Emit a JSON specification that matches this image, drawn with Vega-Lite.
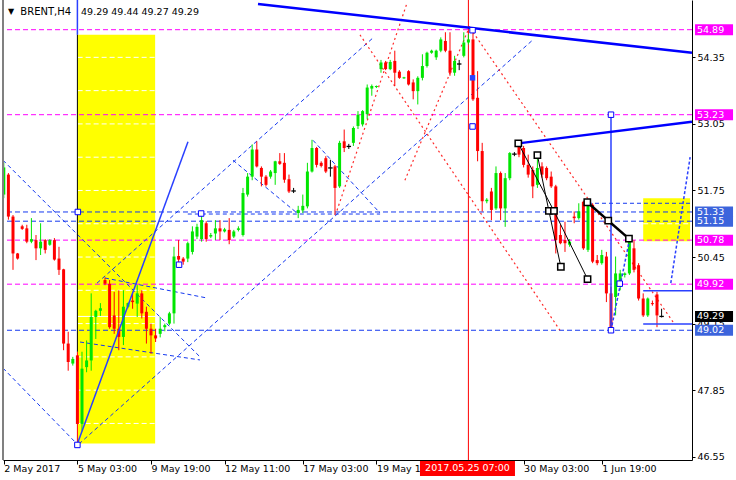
{
  "$schema": "https://vega.github.io/schema/vega-lite/v6.json",
  "width": 689,
  "height": 460,
  "autosize": "none",
  "padding": {"left": 3, "top": 0, "right": 44, "bottom": 20},
  "background": "#ffffff",
  "config": {"view": {"stroke": null}, "font": "DejaVu Sans"},
  "datasets": {
    "candles": [
      {"i":0,"o":51.67,"h":52.3,"l":51.6,"c":52.2},{"i":1,"o":52.06,"h":52.09,"l":51.18,"c":51.24},{"i":2,"o":51.24,"h":51.27,"l":50.2,"c":50.52},{"i":3,"o":50.52,"h":50.53,"l":50.4,"c":50.42},
      {"i":4,"o":51.05,"h":51.08,"l":50.98,"c":51.0},{"i":5,"o":51.01,"h":51.08,"l":50.72,"c":50.75},{"i":6,"o":50.75,"h":51.21,"l":50.72,"c":50.8},{"i":7,"o":50.78,"h":50.88,"l":50.39,"c":50.62},
      {"i":8,"o":50.62,"h":51.11,"l":50.49,"c":50.75},{"i":9,"o":50.78,"h":50.8,"l":50.52,"c":50.59},{"i":10,"o":50.69,"h":50.8,"l":50.67,"c":50.78},{"i":11,"o":50.78,"h":50.82,"l":50.38,"c":50.4},
      {"i":12,"o":50.42,"h":50.65,"l":50.1,"c":50.2},{"i":13,"o":50.21,"h":50.22,"l":48.63,"c":48.76},{"i":14,"o":48.76,"h":48.99,"l":48.23,"c":48.4},{"i":15,"o":48.37,"h":48.5,"l":48.33,"c":48.46},
      {"i":16,"o":48.53,"h":48.6,"l":46.76,"c":47.19},{"i":17,"o":47.19,"h":48.6,"l":47.06,"c":48.27},{"i":18,"o":48.3,"h":48.82,"l":48.2,"c":48.43},{"i":19,"o":48.43,"h":49.74,"l":48.23,"c":49.28},
      {"i":20,"o":49.28,"h":49.42,"l":48.85,"c":49.4},{"i":21,"o":49.4,"h":49.55,"l":49.3,"c":49.45},{"i":22,"o":50.0,"h":50.05,"l":49.9,"c":49.93},{"i":23,"o":49.93,"h":50.0,"l":49.05,"c":49.08},
      {"i":24,"o":49.31,"h":49.77,"l":48.95,"c":49.05},{"i":25,"o":49.05,"h":49.8,"l":48.63,"c":48.89},{"i":26,"o":48.89,"h":49.8,"l":48.73,"c":49.48},{"i":27,"o":49.48,"h":49.56,"l":49.45,"c":49.55},
      {"i":28,"o":49.6,"h":49.77,"l":49.44,"c":49.57},{"i":29,"o":49.54,"h":49.9,"l":49.28,"c":49.74},{"i":30,"o":49.74,"h":49.8,"l":49.25,"c":49.35},{"i":31,"o":49.38,"h":49.48,"l":48.76,"c":49.05},
      {"i":32,"o":49.05,"h":49.15,"l":48.56,"c":48.92},{"i":33,"o":48.92,"h":49.05,"l":48.79,"c":48.86},{"i":34,"o":48.95,"h":49.28,"l":48.88,"c":49.05},{"i":35,"o":49.08,"h":49.15,"l":49.0,"c":49.12},
      {"i":36,"o":49.15,"h":49.38,"l":49.12,"c":49.35},{"i":37,"o":49.35,"h":50.65,"l":49.15,"c":50.46},{"i":38,"o":50.47,"h":50.78,"l":50.26,"c":50.4},{"i":39,"o":50.42,"h":50.45,"l":50.3,"c":50.36},
      {"i":40,"o":50.42,"h":50.75,"l":50.35,"c":50.72},{"i":41,"o":50.55,"h":51.05,"l":50.5,"c":50.95},{"i":42,"o":50.85,"h":51.1,"l":50.8,"c":51.04},{"i":43,"o":50.8,"h":51.34,"l":50.75,"c":51.17},
      {"i":44,"o":51.11,"h":51.15,"l":50.75,"c":50.8},{"i":45,"o":50.85,"h":50.92,"l":50.82,"c":50.88},{"i":46,"o":50.91,"h":51.17,"l":50.78,"c":51.01},{"i":47,"o":51.01,"h":51.17,"l":50.78,"c":50.95},
      {"i":48,"o":50.95,"h":51.02,"l":50.93,"c":50.99},{"i":49,"o":50.98,"h":51.21,"l":50.7,"c":50.78},{"i":50,"o":50.85,"h":50.98,"l":50.82,"c":50.95},{"i":51,"o":50.98,"h":51.05,"l":50.95,"c":51.01},
      {"i":52,"o":50.88,"h":51.8,"l":50.85,"c":51.7},{"i":53,"o":51.67,"h":52.09,"l":51.63,"c":52.02},{"i":54,"o":52.02,"h":52.65,"l":51.95,"c":52.55},{"i":55,"o":52.55,"h":52.71,"l":52.2,"c":52.22},
      {"i":56,"o":52.19,"h":52.22,"l":51.83,"c":52.02},{"i":57,"o":52.02,"h":52.05,"l":51.83,"c":51.86},{"i":58,"o":52.02,"h":52.15,"l":51.98,"c":52.12},{"i":59,"o":52.09,"h":52.33,"l":51.86,"c":52.32},
      {"i":60,"o":52.32,"h":52.48,"l":52.25,"c":52.27},{"i":61,"o":52.29,"h":52.48,"l":51.9,"c":51.96},{"i":62,"o":51.97,"h":52.06,"l":51.7,"c":51.73},{"i":63,"o":51.74,"h":51.8,"l":51.7,"c":51.74},
      {"i":64,"o":51.31,"h":51.45,"l":51.21,"c":51.37},{"i":65,"o":51.36,"h":51.67,"l":51.31,"c":51.45},{"i":66,"o":51.44,"h":52.29,"l":51.4,"c":52.12},{"i":67,"o":52.12,"h":52.74,"l":52.1,"c":52.58},
      {"i":68,"o":52.58,"h":52.6,"l":52.2,"c":52.25},{"i":69,"o":52.29,"h":52.32,"l":52.2,"c":52.23},{"i":70,"o":52.38,"h":52.42,"l":52.09,"c":52.12},{"i":71,"o":52.19,"h":52.35,"l":52.02,"c":52.19},
      {"i":72,"o":52.22,"h":52.25,"l":51.27,"c":51.8},{"i":73,"o":51.83,"h":52.72,"l":51.8,"c":52.68},{"i":74,"o":52.71,"h":52.94,"l":52.5,"c":52.58},{"i":75,"o":52.61,"h":52.66,"l":52.56,"c":52.61},
      {"i":76,"o":52.68,"h":53.0,"l":52.62,"c":52.97},{"i":77,"o":53.01,"h":53.3,"l":52.95,"c":53.23},{"i":78,"o":53.04,"h":53.32,"l":53.0,"c":53.3},{"i":79,"o":53.24,"h":53.82,"l":53.14,"c":53.76},
      {"i":80,"o":53.74,"h":53.82,"l":53.6,"c":53.79},{"i":81,"o":53.77,"h":53.8,"l":53.75,"c":53.79},{"i":82,"o":54.12,"h":54.3,"l":54.05,"c":54.25},{"i":83,"o":54.25,"h":54.28,"l":54.1,"c":54.12},
      {"i":84,"o":54.12,"h":54.3,"l":54.1,"c":54.26},{"i":85,"o":54.28,"h":54.48,"l":53.79,"c":54.05},{"i":86,"o":54.07,"h":54.1,"l":53.93,"c":53.95},{"i":87,"o":53.94,"h":53.97,"l":53.93,"c":53.96},
      {"i":88,"o":54.08,"h":54.1,"l":53.8,"c":53.82},{"i":89,"o":53.86,"h":53.92,"l":53.53,"c":53.69},{"i":90,"o":53.69,"h":53.98,"l":53.43,"c":53.95},{"i":91,"o":53.95,"h":54.41,"l":53.9,"c":54.18},
      {"i":92,"o":54.18,"h":54.46,"l":54.15,"c":54.44},{"i":93,"o":54.44,"h":54.5,"l":54.42,"c":54.48},{"i":94,"o":54.35,"h":54.5,"l":54.3,"c":54.48},{"i":95,"o":54.48,"h":54.74,"l":54.45,"c":54.7},
      {"i":96,"o":54.67,"h":54.84,"l":54.45,"c":54.48},{"i":97,"o":54.48,"h":54.84,"l":53.99,"c":54.05},{"i":98,"o":54.05,"h":54.38,"l":53.99,"c":54.28},{"i":99,"o":54.22,"h":54.3,"l":54.1,"c":54.22},
      {"i":100,"o":54.38,"h":54.84,"l":54.35,"c":54.64},{"i":101,"o":54.64,"h":54.8,"l":54.6,"c":54.7},{"i":102,"o":54.7,"h":54.89,"l":53.5,"c":53.53},{"i":103,"o":53.56,"h":54.08,"l":52.32,"c":52.52},
      {"i":104,"o":52.52,"h":52.68,"l":51.34,"c":51.54},{"i":105,"o":51.54,"h":51.6,"l":51.5,"c":51.57},{"i":106,"o":51.73,"h":51.8,"l":51.17,"c":51.37},{"i":107,"o":51.4,"h":52.22,"l":51.37,"c":52.09},
      {"i":108,"o":52.09,"h":52.12,"l":51.17,"c":51.4},{"i":109,"o":51.4,"h":52.09,"l":51.04,"c":51.99},{"i":110,"o":51.99,"h":52.5,"l":51.95,"c":52.48},{"i":111,"o":52.46,"h":52.5,"l":52.42,"c":52.46},
      {"i":112,"o":52.61,"h":52.68,"l":52.4,"c":52.45},{"i":113,"o":52.58,"h":52.62,"l":52.2,"c":52.25},{"i":114,"o":52.25,"h":52.45,"l":52.0,"c":52.06},{"i":115,"o":52.15,"h":52.22,"l":51.6,"c":51.83},
      {"i":116,"o":51.86,"h":52.45,"l":51.8,"c":52.19},{"i":117,"o":52.22,"h":52.3,"l":52.0,"c":52.06},{"i":118,"o":52.19,"h":52.22,"l":51.95,"c":51.99},{"i":119,"o":52.02,"h":52.12,"l":51.8,"c":51.83},
      {"i":120,"o":51.83,"h":51.86,"l":50.52,"c":50.78},{"i":121,"o":50.88,"h":51.08,"l":50.7,"c":50.72},{"i":122,"o":50.78,"h":51.14,"l":50.55,"c":50.72},{"i":123,"o":50.69,"h":50.8,"l":50.65,"c":50.75},
      {"i":124,"o":51.24,"h":51.34,"l":51.11,"c":51.21},{"i":125,"o":51.21,"h":51.5,"l":51.18,"c":51.34},{"i":126,"o":51.53,"h":51.55,"l":50.59,"c":50.62},{"i":127,"o":50.59,"h":51.52,"l":50.55,"c":51.5},
      {"i":128,"o":51.47,"h":51.5,"l":50.33,"c":50.36},{"i":129,"o":50.39,"h":50.49,"l":50.29,"c":50.33},{"i":130,"o":50.33,"h":50.59,"l":50.3,"c":50.49},{"i":131,"o":50.46,"h":50.55,"l":49.57,"c":49.74},
      {"i":132,"o":49.74,"h":49.87,"l":49.02,"c":49.08},{"i":133,"o":49.67,"h":50.46,"l":49.31,"c":50.13},{"i":134,"o":49.87,"h":50.2,"l":49.8,"c":50.13},{"i":135,"o":50.1,"h":50.15,"l":50.05,"c":50.13},
      {"i":136,"o":50.13,"h":50.85,"l":50.1,"c":50.78},{"i":137,"o":50.62,"h":50.78,"l":50.15,"c":50.2},{"i":138,"o":50.29,"h":50.33,"l":49.6,"c":49.64},{"i":139,"o":49.64,"h":49.74,"l":49.28,"c":49.31},
      {"i":140,"o":49.31,"h":49.66,"l":49.28,"c":49.64},{"i":141,"o":49.55,"h":49.6,"l":49.5,"c":49.53},{"i":142,"o":49.72,"h":49.77,"l":49.08,"c":49.31},{"i":143,"o":49.29,"h":49.44,"l":49.27,"c":49.29}
    ],
    "zones": [
      {"i0":16.05,"p0":54.79,"i1":32.9,"p1":46.81},
      {"i0":139.0,"p0":51.6,"i1":149.2,"p1":50.76}
    ],
    "zoneGrid": [
      {"i0":16.05,"i1":32.9,"p":47.2},{"i0":16.05,"i1":32.9,"p":47.85},{"i0":16.05,"i1":32.9,"p":48.5},{"i0":16.05,"i1":32.9,"p":49.15},
      {"i0":16.05,"i1":32.9,"p":49.8},{"i0":16.05,"i1":32.9,"p":50.45},{"i0":16.05,"i1":32.9,"p":51.1},{"i0":16.05,"i1":32.9,"p":51.75},
      {"i0":16.05,"i1":32.9,"p":52.4},{"i0":16.05,"i1":32.9,"p":53.05},{"i0":16.05,"i1":32.9,"p":53.7},{"i0":16.05,"i1":32.9,"p":54.35},
      {"i0":139.0,"i1":149.2,"p":51.1}
    ],
    "magentaLevels": [{"p":54.89},{"p":53.23},{"p":50.78},{"p":49.92}],
    "blueLevels": [{"p":51.33},{"p":51.15},{"p":49.02}],
    "blueDash": [
      {"i0":16.35,"p0":46.8,"i1":115.0,"p1":54.69},
      {"i0":20.26,"p0":49.94,"i1":80.26,"p1":54.73},
      {"i0":-0.17,"p0":48.28,"i1":16.13,"p1":46.78},
      {"i0":-0.17,"p0":52.34,"i1":42.65,"p1":48.5},
      {"i0":22.0,"p0":50.04,"i1":44.17,"p1":49.65},
      {"i0":16.57,"p0":48.79,"i1":42.65,"p1":48.44},
      {"i0":49.83,"p0":52.34,"i1":63.74,"p1":51.31},
      {"i0":67.22,"p0":52.73,"i1":81.78,"p1":51.31},
      {"i0":127.0,"p0":51.5,"i1":149.6,"p1":51.5},
      {"i0":40.0,"p0":51.29,"i1":81.8,"p1":51.29}
    ],
    "redDot": [
      {"i0":72.43,"p0":51.36,"i1":87.65,"p1":55.41},
      {"i0":77.43,"p0":54.79,"i1":120.9,"p1":49.02},
      {"i0":87.2,"p0":51.95,"i1":101.4,"p1":54.98},
      {"i0":101.4,"p0":54.92,"i1":145.5,"p1":49.18}
    ],
    "blueThick": [
      {"i0":55.26,"p0":55.39,"i1":149.6,"p1":54.44},
      {"i0":111.85,"p0":52.67,"i1":149.6,"p1":53.09}
    ],
    "blueLine": [
      {"i0":15.9,"p0":46.78,"i1":40.04,"p1":52.7},
      {"i0":16.0,"p0":55.47,"i1":16.0,"p1":54.79},
      {"i0":132.0,"p0":53.23,"i1":132.0,"p1":49.02},
      {"i0":139.0,"p0":49.79,"i1":149.6,"p1":49.79},
      {"i0":139.0,"p0":49.14,"i1":149.6,"p1":49.14}
    ],
    "blueDot": [
      {"i0":132.0,"p0":49.02,"i1":136.1,"p1":50.82},
      {"i0":145.0,"p0":49.94,"i1":149.2,"p1":52.4}
    ],
    "blackThin": [
      {"i0":16.0,"p0":54.79,"i1":16.0,"p1":48.6},
      {"i0":111.85,"p0":52.67,"i1":119.6,"p1":51.35},
      {"i0":119.6,"p0":51.35,"i1":126.9,"p1":50.02},
      {"i0":116.0,"p0":52.44,"i1":118.5,"p1":51.35},
      {"i0":118.5,"p0":51.35,"i1":121.1,"p1":50.26}
    ],
    "blackThick": [
      {"i0":126.85,"p0":51.52,"i1":131.4,"p1":51.16},
      {"i0":131.4,"p0":51.16,"i1":135.9,"p1":50.81}
    ],
    "blueSquares": [
      {"i":16.1,"p":51.33},{"i":16.0,"p":46.78},{"i":42.9,"p":51.3},{"i":38.1,"p":50.3},
      {"i":101.9,"p":54.88},{"i":101.9,"p":53.0},{"i":132.0,"p":53.23},{"i":132.0,"p":49.02},{"i":133.9,"p":49.93}
    ],
    "blueFilled": [{"i":101.9,"p":53.95}],
    "blackSquares": [
      {"i":111.85,"p":52.67},{"i":116.0,"p":52.44},{"i":118.5,"p":51.35},{"i":119.6,"p":51.35},{"i":121.1,"p":50.26},
      {"i":126.9,"p":50.02},{"i":126.85,"p":51.52},{"i":131.4,"p":51.16},{"i":135.9,"p":50.81}
    ],
    "priceTags": [
      {"p":54.89,"t":"54.89","k":"level"},{"p":53.23,"t":"53.23","k":"level"},
      {"p":51.15,"t":"51.15","k":"zone"},{"p":51.33,"t":"51.33","k":"zone"},
      {"p":50.78,"t":"50.78","k":"level"},{"p":49.92,"t":"49.92","k":"level"},
      {"p":49.02,"t":"49.02","k":"zone"},{"p":49.29,"t":"49.29","k":"bid"}
    ],
    "one": [{}]
  },
  "layer": [
    {
      "data": {"name": "zones"},
      "mark": {"type": "rect", "color": "#ffff00"},
      "encoding": {
        "x": {"field": "i0", "type": "quantitative",
          "scale": {"domain": [-0.174, 149.61], "nice": false, "zero": false},
          "axis": {"orient": "bottom", "values": [0, 16, 32, 48, 65, 81, 97, 113, 130],
            "labelExpr": "datum.value==0?'2 May 2017':datum.value==16?'5 May 03:00':datum.value==32?'9 May 19:00':datum.value==48?'12 May 11:00':datum.value==65?'17 May 03:00':datum.value==81?'19 May 19:00':datum.value==97?'':datum.value==113?'30 May 03:00':'1 Jun 19:00'",
            "labelAlign": "left", "labelFont": "DejaVu Sans", "labelFontSize": 9.5, "labelColor": "#000000",
            "tickColor": "#000000", "tickSize": 4, "labelPadding": -1, "domainColor": "#000000",
            "grid": false, "title": null, "labelOverlap": false, "labelFlush": false, "labelBound": false}},
        "x2": {"field": "i1"},
        "y": {"field": "p0", "type": "quantitative",
          "scale": {"domain": [46.486, 55.47], "nice": false, "zero": false},
          "axis": {"orient": "right", "values": [46.55, 47.2, 47.85, 48.5, 49.15, 49.8, 50.45, 51.1, 51.75, 52.4, 53.05, 53.7, 54.35, 55.0],
            "format": ".2f", "labelAlign": "left", "labelPadding": 2, "tickSize": 3,
            "labelFont": "DejaVu Sans", "labelFontSize": 9.5, "labelColor": "#000000",
            "domainColor": "#000000", "tickColor": "#000000", "grid": false, "title": null,
            "labelOverlap": false, "labelFlush": false, "labelBound": false}},
        "y2": {"field": "p1"}
      }
    },
    {
      "data": {"name": "zoneGrid"},
      "mark": {"type": "rule", "color": "#ffffff", "strokeDash": [5, 3], "strokeWidth": 1},
      "encoding": {
        "x": {"field": "i0", "type": "quantitative", "scale": {"domain": [-0.174, 149.61], "nice": false, "zero": false}, "axis": {"title": null}},
        "x2": {"field": "i1"},
        "y": {"field": "p", "type": "quantitative", "scale": {"domain": [46.486, 55.47], "nice": false, "zero": false}, "axis": {"title": null}}
      }
    },
    {
      "data": {"name": "one"},
      "mark": {"type": "rule", "color": "#ffffff", "strokeWidth": 1},
      "encoding": {
        "y": {"datum": 49.29, "type": "quantitative", "scale": {"domain": [46.486, 55.47], "nice": false, "zero": false}, "axis": {"title": null}}
      }
    },
    {
      "data": {"name": "magentaLevels"},
      "mark": {"type": "rule", "color": "#ff00ff", "strokeDash": [5, 3], "strokeWidth": 1},
      "encoding": {
        "y": {"field": "p", "type": "quantitative", "scale": {"domain": [46.486, 55.47], "nice": false, "zero": false}, "axis": {"title": null}}
      }
    },
    {
      "data": {"name": "blueLevels"},
      "mark": {"type": "rule", "color": "#1438f0", "strokeDash": [5, 3], "strokeWidth": 1},
      "encoding": {
        "y": {"field": "p", "type": "quantitative", "scale": {"domain": [46.486, 55.47], "nice": false, "zero": false}, "axis": {"title": null}}
      }
    },
    {
      "data": {"name": "blueDash"},
      "mark": {"type": "rule", "color": "#1438f0", "strokeDash": [4, 3], "strokeWidth": 1},
      "encoding": {
        "x": {"field": "i0", "type": "quantitative", "scale": {"domain": [-0.174, 149.61], "nice": false, "zero": false}, "axis": {"title": null}},
        "x2": {"field": "i1"},
        "y": {"field": "p0", "type": "quantitative", "scale": {"domain": [46.486, 55.47], "nice": false, "zero": false}, "axis": {"title": null}},
        "y2": {"field": "p1"}
      }
    },
    {
      "data": {"name": "redDot"},
      "mark": {"type": "rule", "color": "#ff2a2a", "strokeDash": [2, 3], "strokeWidth": 1.2},
      "encoding": {
        "x": {"field": "i0", "type": "quantitative", "scale": {"domain": [-0.174, 149.61], "nice": false, "zero": false}, "axis": {"title": null}},
        "x2": {"field": "i1"},
        "y": {"field": "p0", "type": "quantitative", "scale": {"domain": [46.486, 55.47], "nice": false, "zero": false}, "axis": {"title": null}},
        "y2": {"field": "p1"}
      }
    },
    {
      "data": {"name": "one"},
      "mark": {"type": "rule", "color": "#ff0000", "strokeWidth": 1},
      "encoding": {
        "x": {"datum": 101.0, "type": "quantitative", "scale": {"domain": [-0.174, 149.61], "nice": false, "zero": false}, "axis": {"title": null}}
      }
    },
    {
      "data": {"name": "candles"},
      "mark": {"type": "rule", "strokeWidth": 1},
      "encoding": {
        "x": {"field": "i", "type": "quantitative", "scale": {"domain": [-0.174, 149.61], "nice": false, "zero": false}, "axis": {"title": null}},
        "y": {"field": "l", "type": "quantitative", "scale": {"domain": [46.486, 55.47], "nice": false, "zero": false}, "axis": {"title": null}},
        "y2": {"field": "h"},
        "color": {"condition": [{"test": "datum.c > datum.o", "value": "#00e600"}, {"test": "datum.c < datum.o", "value": "#ff0000"}], "value": "#000000"}
      }
    },
    {
      "data": {"name": "candles"},
      "mark": {"type": "rule", "strokeWidth": 3, "strokeCap": "butt"},
      "encoding": {
        "x": {"field": "i", "type": "quantitative", "scale": {"domain": [-0.174, 149.61], "nice": false, "zero": false}, "axis": {"title": null}},
        "y": {"field": "o", "type": "quantitative", "scale": {"domain": [46.486, 55.47], "nice": false, "zero": false}, "axis": {"title": null}},
        "y2": {"field": "c"},
        "color": {"condition": [{"test": "datum.c > datum.o", "value": "#00e600"}, {"test": "datum.c < datum.o", "value": "#ff0000"}], "value": "#000000"}
      }
    },
    {
      "data": {"name": "candles"},
      "transform": [{"filter": "datum.c == datum.o"}],
      "mark": {"type": "point", "shape": "M-1,0L1,0", "size": 20, "filled": false, "stroke": "#000000", "strokeWidth": 1.3, "opacity": 1},
      "encoding": {
        "x": {"field": "i", "type": "quantitative", "scale": {"domain": [-0.174, 149.61], "nice": false, "zero": false}, "axis": {"title": null}},
        "y": {"field": "c", "type": "quantitative", "scale": {"domain": [46.486, 55.47], "nice": false, "zero": false}, "axis": {"title": null}}
      }
    },
    {
      "data": {"name": "blueLine"},
      "mark": {"type": "rule", "color": "#2a40ff", "strokeWidth": 1.5},
      "encoding": {
        "x": {"field": "i0", "type": "quantitative", "scale": {"domain": [-0.174, 149.61], "nice": false, "zero": false}, "axis": {"title": null}},
        "x2": {"field": "i1"},
        "y": {"field": "p0", "type": "quantitative", "scale": {"domain": [46.486, 55.47], "nice": false, "zero": false}, "axis": {"title": null}},
        "y2": {"field": "p1"}
      }
    },
    {
      "data": {"name": "blueDot"},
      "mark": {"type": "rule", "color": "#2a40ff", "strokeDash": [3, 2], "strokeWidth": 1.5},
      "encoding": {
        "x": {"field": "i0", "type": "quantitative", "scale": {"domain": [-0.174, 149.61], "nice": false, "zero": false}, "axis": {"title": null}},
        "x2": {"field": "i1"},
        "y": {"field": "p0", "type": "quantitative", "scale": {"domain": [46.486, 55.47], "nice": false, "zero": false}, "axis": {"title": null}},
        "y2": {"field": "p1"}
      }
    },
    {
      "data": {"name": "blueThick"},
      "mark": {"type": "rule", "color": "#0000ff", "strokeWidth": 2.5},
      "encoding": {
        "x": {"field": "i0", "type": "quantitative", "scale": {"domain": [-0.174, 149.61], "nice": false, "zero": false}, "axis": {"title": null}},
        "x2": {"field": "i1"},
        "y": {"field": "p0", "type": "quantitative", "scale": {"domain": [46.486, 55.47], "nice": false, "zero": false}, "axis": {"title": null}},
        "y2": {"field": "p1"}
      }
    },
    {
      "data": {"name": "blackThin"},
      "mark": {"type": "rule", "color": "#000000", "strokeWidth": 1},
      "encoding": {
        "x": {"field": "i0", "type": "quantitative", "scale": {"domain": [-0.174, 149.61], "nice": false, "zero": false}, "axis": {"title": null}},
        "x2": {"field": "i1"},
        "y": {"field": "p0", "type": "quantitative", "scale": {"domain": [46.486, 55.47], "nice": false, "zero": false}, "axis": {"title": null}},
        "y2": {"field": "p1"}
      }
    },
    {
      "data": {"name": "blackThick"},
      "mark": {"type": "rule", "color": "#000000", "strokeWidth": 2.5},
      "encoding": {
        "x": {"field": "i0", "type": "quantitative", "scale": {"domain": [-0.174, 149.61], "nice": false, "zero": false}, "axis": {"title": null}},
        "x2": {"field": "i1"},
        "y": {"field": "p0", "type": "quantitative", "scale": {"domain": [46.486, 55.47], "nice": false, "zero": false}, "axis": {"title": null}},
        "y2": {"field": "p1"}
      }
    },
    {
      "data": {"name": "blueSquares"},
      "mark": {"type": "point", "shape": "square", "size": 30, "filled": true, "fill": "#ffffff", "stroke": "#0000ff", "strokeWidth": 1, "opacity": 1},
      "encoding": {
        "x": {"field": "i", "type": "quantitative", "scale": {"domain": [-0.174, 149.61], "nice": false, "zero": false}, "axis": {"title": null}},
        "y": {"field": "p", "type": "quantitative", "scale": {"domain": [46.486, 55.47], "nice": false, "zero": false}, "axis": {"title": null}}
      }
    },
    {
      "data": {"name": "blueFilled"},
      "mark": {"type": "point", "shape": "square", "size": 30, "filled": true, "color": "#2a40ff", "opacity": 1},
      "encoding": {
        "x": {"field": "i", "type": "quantitative", "scale": {"domain": [-0.174, 149.61], "nice": false, "zero": false}, "axis": {"title": null}},
        "y": {"field": "p", "type": "quantitative", "scale": {"domain": [46.486, 55.47], "nice": false, "zero": false}, "axis": {"title": null}}
      }
    },
    {
      "data": {"name": "blackSquares"},
      "mark": {"type": "point", "shape": "square", "size": 40, "filled": true, "fill": "#ffffff", "stroke": "#000000", "strokeWidth": 1.5, "opacity": 1},
      "encoding": {
        "x": {"field": "i", "type": "quantitative", "scale": {"domain": [-0.174, 149.61], "nice": false, "zero": false}, "axis": {"title": null}},
        "y": {"field": "p", "type": "quantitative", "scale": {"domain": [46.486, 55.47], "nice": false, "zero": false}, "axis": {"title": null}}
      }
    },
    {
      "data": {"name": "one"},
      "mark": {"type": "rule", "color": "#808080", "strokeWidth": 2},
      "encoding": {
        "x": {"datum": -0.174, "type": "quantitative", "scale": {"domain": [-0.174, 149.61], "nice": false, "zero": false}, "axis": {"title": null}}
      }
    },
    {
      "data": {"name": "one"},
      "mark": {"type": "text", "text": "▼", "align": "left", "baseline": "middle", "font": "DejaVu Sans", "fontSize": 8, "color": "#000000"},
      "encoding": {
        "x": {"datum": 0.9, "type": "quantitative", "scale": {"domain": [-0.174, 149.61], "nice": false, "zero": false}, "axis": {"title": null}},
        "y": {"datum": 55.236, "type": "quantitative", "scale": {"domain": [46.486, 55.47], "nice": false, "zero": false}, "axis": {"title": null}}
      }
    },
    {
      "data": {"name": "one"},
      "mark": {"type": "text", "text": "BRENT,H4", "align": "left", "baseline": "middle", "font": "DejaVu Sans", "fontSize": 10, "color": "#000000"},
      "encoding": {
        "x": {"datum": 3.6, "type": "quantitative", "scale": {"domain": [-0.174, 149.61], "nice": false, "zero": false}, "axis": {"title": null}},
        "y": {"datum": 55.236, "type": "quantitative", "scale": {"domain": [46.486, 55.47], "nice": false, "zero": false}, "axis": {"title": null}}
      }
    },
    {
      "data": {"name": "one"},
      "mark": {"type": "text", "text": "49.29 49.44 49.27 49.29", "align": "left", "baseline": "middle", "font": "DejaVu Sans", "fontSize": 9.5, "color": "#000000"},
      "encoding": {
        "x": {"datum": 16.8, "type": "quantitative", "scale": {"domain": [-0.174, 149.61], "nice": false, "zero": false}, "axis": {"title": null}},
        "y": {"datum": 55.236, "type": "quantitative", "scale": {"domain": [46.486, 55.47], "nice": false, "zero": false}, "axis": {"title": null}}
      }
    },
    {
      "data": {"name": "priceTags"},
      "mark": {"type": "point", "shape": "M-1,-0.29H1V0.29H-1Z", "size": 1444, "filled": true, "opacity": 1},
      "encoding": {
        "x": {"datum": 154.4, "type": "quantitative", "scale": {"domain": [-0.174, 149.61], "nice": false, "zero": false}, "axis": {"title": null}},
        "y": {"field": "p", "type": "quantitative", "scale": {"domain": [46.486, 55.47], "nice": false, "zero": false}, "axis": {"title": null}},
        "color": {"field": "k", "type": "nominal", "scale": {"domain": ["level", "zone", "bid"], "range": ["#ff00ff", "#3c64dc", "#000000"]}, "legend": null}
      }
    },
    {
      "data": {"name": "priceTags"},
      "mark": {"type": "text", "align": "left", "baseline": "middle", "font": "DejaVu Sans", "fontSize": 9.5, "color": "#ffffff"},
      "encoding": {
        "x": {"datum": 150.7, "type": "quantitative", "scale": {"domain": [-0.174, 149.61], "nice": false, "zero": false}, "axis": {"title": null}},
        "y": {"field": "p", "type": "quantitative", "scale": {"domain": [46.486, 55.47], "nice": false, "zero": false}, "axis": {"title": null}},
        "text": {"field": "t"}
      }
    },
    {
      "data": {"name": "one"},
      "mark": {"type": "point", "shape": "M-1,-0.16H1V0.16H-1Z", "size": 9025, "filled": true, "color": "#ff0000", "opacity": 1},
      "encoding": {
        "x": {"datum": 100.8, "type": "quantitative", "scale": {"domain": [-0.174, 149.61], "nice": false, "zero": false}, "axis": {"title": null}},
        "y": {"datum": 46.32, "type": "quantitative", "scale": {"domain": [46.486, 55.47], "nice": false, "zero": false}, "axis": {"title": null}}
      }
    },
    {
      "data": {"name": "one"},
      "mark": {"type": "text", "text": "2017.05.25 07:00", "align": "center", "baseline": "middle", "font": "DejaVu Sans", "fontSize": 9.5, "color": "#ffffff"},
      "encoding": {
        "x": {"datum": 100.8, "type": "quantitative", "scale": {"domain": [-0.174, 149.61], "nice": false, "zero": false}, "axis": {"title": null}},
        "y": {"datum": 46.32, "type": "quantitative", "scale": {"domain": [46.486, 55.47], "nice": false, "zero": false}, "axis": {"title": null}}
      }
    }
  ]
}
